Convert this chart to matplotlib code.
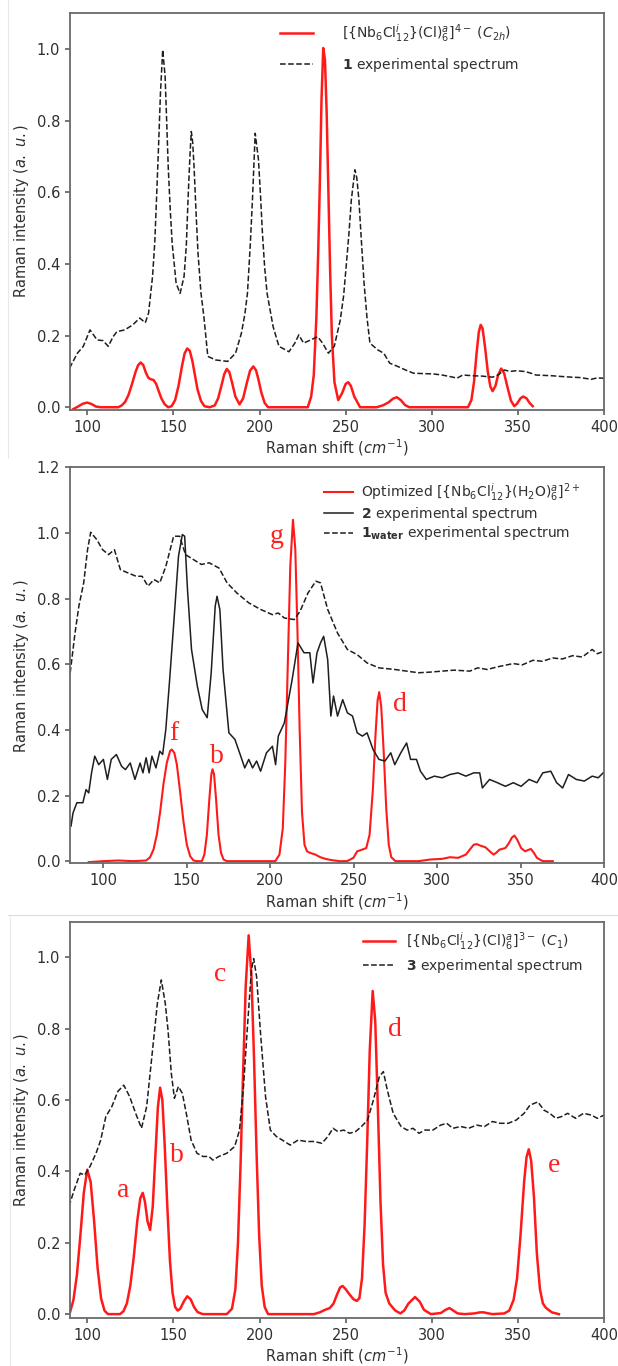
import numpy as np
import matplotlib
matplotlib.use('Agg')
import matplotlib.pyplot as plt
from matplotlib.lines import Line2D

# ---- panel 1 : compound 1 ----
exp1_x = [89.7, 94.3, 97.7, 101.6, 105.7, 109.2, 112.2, 115.0, 117.2, 121.8, 126.4, 130.5, 133.7,
          135.6, 137.9, 139.2, 140.2, 141.4, 142.5, 143.8, 145.2, 146.1, 147.0, 148.2, 149.3, 151.6,
          153.9, 156.2, 157.5, 158.5, 159.6, 160.4, 161.2, 162.0, 163.2, 164.3, 166.0, 167.7, 170.0,
          174.6, 181.5, 186.1, 189.5, 191.5, 193.0, 194.6, 195.9, 197.5, 199.4, 200.6, 201.7, 203.0,
          204.4, 207.9, 211.3, 217.1, 220.5, 222.8, 225.6, 229.7, 233.8, 236.6, 240.0, 243.4, 246.9,
          248.8, 250.3, 252.0, 253.3, 255.4, 256.5, 257.7, 259.2, 260.7, 262.4, 264.1, 268.7, 272.1,
          275.6, 280.2, 284.8, 289.4, 295.0, 300.9, 306.0, 312.3, 314.6, 318.0, 323.8, 329.0, 335.3,
          338.5, 342.1, 345.5, 349.0, 353.6, 357.0, 360.5, 365.0, 369.7, 375.0, 381.1, 386.0, 392.6,
          396.0, 400.0]
exp1_y = [0.109, 0.151, 0.170, 0.216, 0.188, 0.186, 0.170, 0.197, 0.211, 0.216, 0.230, 0.249, 0.236,
          0.263, 0.365, 0.460, 0.580, 0.730, 0.877, 0.998, 0.924, 0.800, 0.672, 0.550, 0.458, 0.346,
          0.318, 0.365, 0.450, 0.579, 0.700, 0.770, 0.740, 0.672, 0.540, 0.430, 0.320, 0.253, 0.142,
          0.132, 0.128, 0.151, 0.207, 0.260, 0.318, 0.450, 0.579, 0.765, 0.691, 0.590, 0.486, 0.390,
          0.318, 0.225, 0.170, 0.155, 0.179, 0.202, 0.179, 0.188, 0.197, 0.179, 0.151, 0.170, 0.244,
          0.310, 0.393, 0.490, 0.579, 0.663, 0.640, 0.579, 0.460, 0.346, 0.250, 0.179, 0.160, 0.151,
          0.123, 0.114, 0.104, 0.095, 0.094, 0.093, 0.090, 0.084, 0.081, 0.090, 0.088, 0.087, 0.084,
          0.090, 0.104, 0.100, 0.102, 0.100, 0.096, 0.090, 0.089, 0.088, 0.086, 0.084, 0.083, 0.078,
          0.082, 0.081]

calc1_x = [92.0, 95.0, 97.5, 100.0, 102.5, 105.0, 108.0, 118.0, 120.0, 122.0, 124.0, 126.0, 128.0,
           129.5, 131.0, 132.5, 134.0, 135.5, 137.0, 138.5, 140.0, 141.5, 143.0, 145.0, 147.0, 149.0,
           151.0, 153.0, 155.0, 156.5, 158.0, 159.5, 161.0, 162.5, 164.0, 166.0, 168.0, 171.0, 174.0,
           176.0, 178.0, 179.5, 181.0, 182.5, 184.0, 186.0, 188.4, 190.5, 192.5, 194.5, 196.4, 198.0,
           199.5, 201.0, 203.0, 205.0, 228.0, 230.0, 231.5, 233.0, 234.0, 235.0, 236.0, 237.0, 238.0,
           239.0, 240.0, 241.0, 242.0, 243.5, 245.7, 248.0, 250.0, 251.5, 253.0, 255.0, 258.4, 268.0,
           272.0, 275.0, 277.5, 279.7, 282.0, 284.5, 287.0, 321.0, 323.0, 324.5, 326.0, 327.3, 328.4,
           329.5, 331.0, 332.5, 334.0, 335.3, 337.0, 338.5, 340.3, 342.0, 344.0, 346.0, 347.9, 349.5,
           351.5, 353.1, 355.0, 356.8, 358.6]
calc1_y = [-0.005, 0.003, 0.010, 0.013, 0.009, 0.002, 0.0, 0.0, 0.005, 0.015, 0.035, 0.065, 0.098,
           0.117, 0.125, 0.118, 0.097, 0.082, 0.078, 0.076, 0.065, 0.045, 0.025, 0.008, 0.0, 0.003,
           0.020, 0.060, 0.115, 0.150, 0.164, 0.158, 0.130, 0.090, 0.050, 0.018, 0.003, 0.0, 0.005,
           0.025, 0.062, 0.092, 0.107, 0.098, 0.070, 0.030, 0.008, 0.025, 0.065, 0.102, 0.114, 0.103,
           0.075, 0.042, 0.012, 0.0, 0.0, 0.030, 0.090, 0.250, 0.420, 0.620, 0.860, 1.003, 0.970,
           0.820, 0.600, 0.380, 0.200, 0.070, 0.020, 0.040, 0.065, 0.070, 0.060, 0.030, 0.0, 0.0,
           0.006, 0.014, 0.024, 0.028, 0.020, 0.006, 0.0, 0.0, 0.020, 0.070, 0.150, 0.210, 0.230,
           0.220, 0.165, 0.100, 0.058, 0.045, 0.060, 0.090, 0.108, 0.095, 0.055, 0.018, 0.003, 0.010,
           0.025, 0.030, 0.025, 0.012, 0.003]

# ---- panel 2 : compound 2 ----
water_x = [80.1, 83.0, 85.3, 88.2, 90.5, 92.4, 96.0, 99.5, 103.1, 106.6, 110.2, 114.9, 119.6, 123.2,
           126.7, 130.3, 133.8, 137.4, 142.1, 145.7, 149.2, 153.9, 158.7, 163.4, 169.3, 174.1, 180.0,
           187.1, 194.2, 201.3, 204.8, 208.4, 214.3, 217.8, 222.6, 227.3, 230.1, 234.4, 240.3, 246.2,
           252.1, 258.0, 265.1, 274.6, 281.7, 288.8, 295.9, 303.0, 310.1, 319.6, 324.3, 330.0, 336.1,
           345.6, 351.0, 357.4, 363.0, 369.3, 375.0, 381.1, 387.0, 392.9, 396.0, 400.0]
water_y = [0.574, 0.695, 0.777, 0.848, 0.949, 1.002, 0.980, 0.949, 0.934, 0.949, 0.888, 0.878, 0.868,
           0.868, 0.838, 0.858, 0.848, 0.898, 0.990, 0.990, 0.934, 0.919, 0.904, 0.909, 0.893, 0.848,
           0.817, 0.787, 0.767, 0.751, 0.756, 0.741, 0.736, 0.761, 0.817, 0.853, 0.848, 0.767, 0.695,
           0.645, 0.629, 0.604, 0.589, 0.584, 0.579, 0.574, 0.576, 0.579, 0.582, 0.579, 0.589, 0.584,
           0.592, 0.602, 0.598, 0.612, 0.609, 0.619, 0.616, 0.626, 0.622, 0.645, 0.632, 0.640]

exp2_x = [80.6, 81.8, 84.1, 87.7, 89.6, 91.2, 92.9, 94.8, 97.2, 100.0, 102.4, 104.7, 107.8, 110.9,
          113.2, 116.1, 118.9, 122.0, 123.7, 125.6, 127.4, 129.1, 131.5, 133.8, 135.5, 137.4, 139.7,
          142.6, 145.0, 147.3, 148.7, 150.4, 152.8, 156.3, 159.2, 162.2, 164.6, 167.0, 168.1, 169.8,
          171.7, 175.2, 178.8, 182.3, 184.7, 187.1, 189.4, 191.8, 194.2, 197.7, 201.3, 203.2, 204.8,
          208.4, 213.1, 216.6, 220.2, 223.7, 225.6, 228.0, 230.1, 232.0, 234.4, 236.3, 237.9, 240.3,
          243.4, 246.2, 249.3, 252.1, 255.2, 258.0, 261.6, 265.1, 268.7, 272.2, 274.6, 278.2, 281.7,
          284.1, 287.6, 290.0, 293.5, 298.3, 303.0, 307.7, 312.5, 317.2, 321.9, 325.5, 327.1, 331.4,
          336.1, 340.9, 345.6, 350.3, 355.1, 359.8, 363.3, 368.1, 371.6, 375.2, 378.7, 383.4, 388.2,
          392.9, 396.5, 399.5]
exp2_y = [0.107, 0.147, 0.178, 0.178, 0.218, 0.208, 0.269, 0.320, 0.294, 0.310, 0.249, 0.310, 0.325,
          0.289, 0.279, 0.299, 0.249, 0.299, 0.269, 0.315, 0.269, 0.320, 0.284, 0.335, 0.325, 0.401,
          0.553, 0.756, 0.929, 0.995, 0.990, 0.827, 0.645, 0.533, 0.462, 0.437, 0.574, 0.777, 0.807,
          0.766, 0.584, 0.391, 0.371, 0.320, 0.284, 0.310, 0.284, 0.305, 0.274, 0.330, 0.350, 0.294,
          0.381, 0.421, 0.553, 0.665, 0.635, 0.635, 0.543, 0.635, 0.665, 0.685, 0.614, 0.442, 0.503,
          0.442, 0.492, 0.452, 0.442, 0.391, 0.381, 0.391, 0.340, 0.310, 0.305, 0.330, 0.294, 0.330,
          0.360, 0.310, 0.310, 0.274, 0.249, 0.259, 0.254, 0.264, 0.269, 0.259, 0.269, 0.269, 0.223,
          0.249, 0.239, 0.228, 0.239, 0.228, 0.249, 0.239, 0.269, 0.274, 0.239, 0.223, 0.264, 0.249,
          0.244, 0.259, 0.254, 0.269]

calc2_x = [91.2, 100.0, 109.0, 118.0, 125.6, 128.0, 130.0, 132.0, 134.0, 136.0, 138.0, 140.0, 141.0,
           142.5, 144.0, 146.0, 148.0, 150.0, 152.0, 154.0, 156.0, 159.0, 160.5, 162.0, 163.5, 164.7,
           165.4, 166.3, 167.5, 169.0, 170.5, 172.0, 174.0, 203.0, 205.5, 207.5, 209.0, 210.5, 212.0,
           213.6, 215.0, 216.3, 217.6, 219.0, 220.5, 222.0, 224.0, 227.0, 230.0, 233.0, 237.0, 241.5,
           246.0, 249.8, 252.1, 255.0, 257.5, 259.5, 261.5, 263.0, 264.3, 265.3, 266.5, 268.0, 269.5,
           271.0, 272.5, 275.0, 288.8, 295.9, 303.0, 307.7, 312.5, 317.2, 320.0, 321.9, 323.7, 325.5,
           329.0, 331.5, 333.8, 335.5, 337.3, 340.9, 343.0, 344.8, 346.3, 348.0, 350.3, 352.7, 355.0,
           356.2, 358.0, 359.8, 363.3, 369.3]
calc2_y = [-0.003, 0.0, 0.002, 0.0, 0.002, 0.012, 0.035, 0.080, 0.150, 0.235, 0.300, 0.336, 0.340,
           0.330, 0.295, 0.210, 0.120, 0.050, 0.015, 0.002, 0.0, 0.0, 0.020, 0.080, 0.190, 0.265,
           0.280, 0.265, 0.190, 0.080, 0.025, 0.005, 0.0, 0.0, 0.020, 0.100, 0.300, 0.600, 0.900,
           1.040, 0.950, 0.700, 0.400, 0.150, 0.050, 0.030, 0.025, 0.020, 0.012, 0.007, 0.003, 0.0,
           0.0, 0.010, 0.030, 0.035, 0.040, 0.080, 0.220, 0.380, 0.490, 0.515, 0.470, 0.330, 0.160,
           0.050, 0.012, 0.0, 0.0, 0.005, 0.007, 0.012, 0.010, 0.020, 0.038, 0.050, 0.052, 0.048,
           0.042, 0.030, 0.020, 0.026, 0.035, 0.040, 0.055, 0.072, 0.078, 0.065, 0.040, 0.030, 0.035,
           0.037, 0.025, 0.010, 0.0, 0.0]

labels2 = ['f', 'b', 'g', 'd']
labels2_x = [142.1, 168.1, 203.6, 277.5]
labels2_y = [0.39, 0.32, 0.99, 0.477]

# ---- panel 3 : compound 3 ----
exp3_x = [89.4, 92.4, 95.9, 98.6, 101.6, 105.1, 107.8, 110.8, 114.3, 117.7, 121.2, 124.6, 128.1,
          131.5, 134.5, 137.7, 140.7, 143.0, 145.3, 146.9, 148.8, 150.6, 152.9, 155.2, 157.5, 160.3,
          163.7, 167.2, 170.6, 172.9, 176.4, 181.0, 185.6, 188.4, 190.7, 193.0, 195.3, 196.6, 198.3,
          200.6, 203.5, 206.3, 209.8, 213.2, 217.8, 222.4, 227.0, 231.6, 236.2, 239.7, 242.7, 245.4,
          248.9, 252.3, 255.8, 259.2, 262.7, 266.1, 269.6, 271.9, 274.2, 277.6, 282.2, 285.7, 289.1,
          292.6, 296.0, 300.6, 305.2, 308.7, 312.2, 316.8, 321.4, 326.0, 330.6, 335.2, 339.8, 344.4,
          349.0, 353.6, 357.0, 361.6, 365.1, 368.5, 372.0, 375.4, 378.9, 383.5, 388.1, 392.7, 396.1,
          400.0]
exp3_y = [0.302, 0.348, 0.395, 0.390, 0.414, 0.451, 0.488, 0.554, 0.582, 0.624, 0.642, 0.610, 0.563,
          0.521, 0.582, 0.731, 0.871, 0.937, 0.871, 0.796, 0.675, 0.605, 0.638, 0.619, 0.563, 0.488,
          0.451, 0.442, 0.442, 0.432, 0.442, 0.451, 0.470, 0.516, 0.638, 0.806, 0.965, 0.997, 0.946,
          0.787, 0.610, 0.516, 0.498, 0.488, 0.474, 0.488, 0.484, 0.484, 0.479, 0.498, 0.521, 0.512,
          0.516, 0.507, 0.512, 0.526, 0.544, 0.600, 0.666, 0.680, 0.628, 0.563, 0.526, 0.516, 0.521,
          0.507, 0.516, 0.516, 0.530, 0.535, 0.521, 0.526, 0.521, 0.530, 0.526, 0.540, 0.535, 0.535,
          0.544, 0.563, 0.586, 0.595, 0.572, 0.563, 0.549, 0.554, 0.563, 0.549, 0.563, 0.558, 0.549,
          0.558]

calc3_x = [90.1, 92.0, 94.0, 96.0, 98.0, 100.0, 102.0, 104.0, 106.0, 108.0, 110.0, 112.0, 119.0,
           121.0, 123.0, 125.0, 127.0, 129.0, 130.8, 132.2, 133.5, 135.0, 136.5, 138.0, 139.5, 141.0,
           142.3, 143.6, 145.0, 146.5, 148.0, 149.5, 151.0, 152.5, 154.0, 156.0, 158.0, 160.0, 162.0,
           164.0, 167.0, 181.0, 184.0, 186.0, 187.5, 189.0, 190.5, 192.0, 193.7, 195.3, 196.8, 198.3,
           199.8, 201.3, 203.0, 205.0, 231.6, 235.0, 238.0, 240.8, 243.0, 245.0, 246.8, 248.2, 250.0,
           252.3, 254.5, 256.5, 258.0, 259.5, 261.0, 262.5, 264.0, 265.7, 267.2, 268.7, 270.2, 271.7,
           273.2, 275.3, 278.8, 281.8, 284.0, 286.5, 290.3, 293.0, 295.5, 299.5, 305.2, 308.0, 310.3,
           312.5, 315.0, 319.1, 324.8, 328.0, 330.1, 333.0, 335.2, 342.1, 345.0, 347.5, 349.5, 351.5,
           353.6, 355.0, 356.3, 357.7, 359.3, 361.0, 362.8, 364.5, 366.2, 369.7, 373.8]
calc3_y = [0.007, 0.040, 0.110, 0.220, 0.340, 0.405, 0.370, 0.260, 0.130, 0.045, 0.010, 0.0, 0.0,
           0.008, 0.030, 0.080, 0.160, 0.260, 0.325, 0.340, 0.315, 0.260, 0.236, 0.300, 0.440, 0.580,
           0.635, 0.600, 0.470, 0.300, 0.150, 0.060, 0.020, 0.010, 0.015, 0.035, 0.050, 0.042, 0.020,
           0.006, 0.0, 0.0, 0.015, 0.070, 0.200, 0.420, 0.680, 0.920, 1.062, 0.950, 0.720, 0.450,
           0.220, 0.080, 0.020, 0.0, 0.0, 0.005, 0.012, 0.017, 0.030, 0.055, 0.075, 0.079, 0.070,
           0.055, 0.042, 0.037, 0.045, 0.100, 0.250, 0.480, 0.740, 0.906, 0.820, 0.580, 0.320, 0.140,
           0.060, 0.030, 0.010, 0.002, 0.010, 0.030, 0.048, 0.035, 0.012, 0.0, 0.003, 0.012, 0.017,
           0.010, 0.002, 0.0, 0.002, 0.005, 0.005, 0.002, 0.0, 0.002, 0.010, 0.040, 0.100, 0.220,
           0.370, 0.440, 0.462, 0.430, 0.330, 0.170, 0.070, 0.030, 0.018, 0.005, 0.0]

labels3 = ['a', 'b', 'c', 'd', 'e']
labels3_x = [120.7, 152.2, 176.9, 278.8, 370.8]
labels3_y = [0.348, 0.446, 0.953, 0.798, 0.416]

leg1 = [r'[{Nb$_6$Cl$^{i}_{12}$}(Cl)$^{a}_{6}$]$^{4-}$ ($C_{2h}$)',
        r'$\mathbf{1}$ experimental spectrum']
leg2 = [r'Optimized [{Nb$_6$Cl$^{i}_{12}$}(H$_2$O)$^{a}_{6}$]$^{2+}$',
        r'$\mathbf{2}$ experimental spectrum',
        r'$\mathbf{1_{water}}$ experimental spectrum']
leg3 = [r'[{Nb$_6$Cl$^{i}_{12}$}(Cl)$^{a}_{6}$]$^{3-}$ ($C_1$)',
        r'$\mathbf{3}$ experimental spectrum']

plt.rcParams['font.family'] = ['DejaVu Sans']
plt.rcParams['font.size'] = 10.5
plt.rcParams['text.color'] = '#303030'
plt.rcParams['axes.labelcolor'] = '#303030'
plt.rcParams['xtick.color'] = '#505050'
plt.rcParams['ytick.color'] = '#505050'
plt.rcParams['xtick.labelcolor'] = '#303030'
plt.rcParams['ytick.labelcolor'] = '#303030'

fig = plt.figure(figsize=(6.18, 13.66), dpi=100)
ax1 = fig.add_axes([0.1133, 0.6999, 0.8641, 0.2909])
ax2 = fig.add_axes([0.1133, 0.3679, 0.8641, 0.2900])
ax3 = fig.add_axes([0.1133, 0.0351, 0.8641, 0.2901])

RED = '#ff1a1a'
DARK = '#1e1e1e'

ax1.plot(calc1_x, calc1_y, color=RED, lw=1.8, label=leg1[0])
ax1.plot(exp1_x, exp1_y, color=DARK, lw=1.1, ls='--', label=leg1[1])
ax1.set_xlim(90, 400)
ax1.set_ylim(-0.0075, 1.102)
ax1.set_yticks(np.arange(0, 1.01, 0.2))
ax1.legend(loc='upper left', bbox_to_anchor=(0.393, 0.975), frameon=False, fontsize=10,
           handlelength=2.4, handletextpad=2.1, labelspacing=0.85, borderpad=0, borderaxespad=0)

ax2.plot(calc2_x, calc2_y, color=RED, lw=1.5, label=leg2[0])
ax2.plot(exp2_x, exp2_y, color=DARK, lw=1.1, label=leg2[1])
ax2.plot(water_x, water_y, color=DARK, lw=1.1, ls='--', label=leg2[2])
ax2.set_xlim(80, 400)
ax2.set_ylim(-0.007, 1.2)
ax2.set_yticks(np.arange(0, 1.21, 0.2))
ax2.legend(loc='upper left', bbox_to_anchor=(0.475, 0.965), frameon=False, fontsize=10,
           handlelength=2.1, handletextpad=0.6, labelspacing=0.12, borderpad=0, borderaxespad=0)
for t, x, y in zip(labels2, labels2_x, labels2_y):
    ax2.text(x, y, t, color='#ff2020', fontsize=20, family='Liberation Serif',
             ha='center', va='center')

ax3.plot(calc3_x, calc3_y, color=RED, lw=1.8, label=leg3[0])
ax3.plot(exp3_x, exp3_y, color=DARK, lw=1.1, ls='--', label=leg3[1])
ax3.set_xlim(90, 400)
ax3.set_ylim(-0.011, 1.10)
ax3.set_yticks(np.arange(0, 1.01, 0.2))
ax3.legend(loc='upper left', bbox_to_anchor=(0.549, 0.978), frameon=False, fontsize=10,
           handlelength=2.3, handletextpad=0.8, labelspacing=0.35, borderpad=0, borderaxespad=0)
for t, x, y in zip(labels3, labels3_x, labels3_y):
    ax3.text(x, y, t, color='#ff2020', fontsize=20, family='Liberation Serif',
             ha='center', va='center')

for ax in (ax1, ax2, ax3):
    ax.set_xticks([100, 150, 200, 250, 300, 350, 400])
    ax.set_xlabel(r'Raman shift ($cm^{-1}$)', labelpad=2)
    ax.set_ylabel(r'Raman intensity ($a.\ u.$)')
    for s in ax.spines.values():
        s.set_color('#6a6a6a')
        s.set_linewidth(1.3)
    ax.tick_params(width=1.1)

# faint borders left over from the stacked screenshots
fig.add_artist(Line2D([8/618, 8/618], [1, 1 - 458/1366], color='#e8e8e8', lw=0.8))
fig.add_artist(Line2D([8/618, 1], [1 - 915/1366, 1 - 915/1366], color='#dcdcdc', lw=0.8))
fig.add_artist(Line2D([10/618, 10/618], [1 - 917/1366, 0], color='#e8e8e8', lw=0.8))

fig.savefig('out.png', dpi=100)
